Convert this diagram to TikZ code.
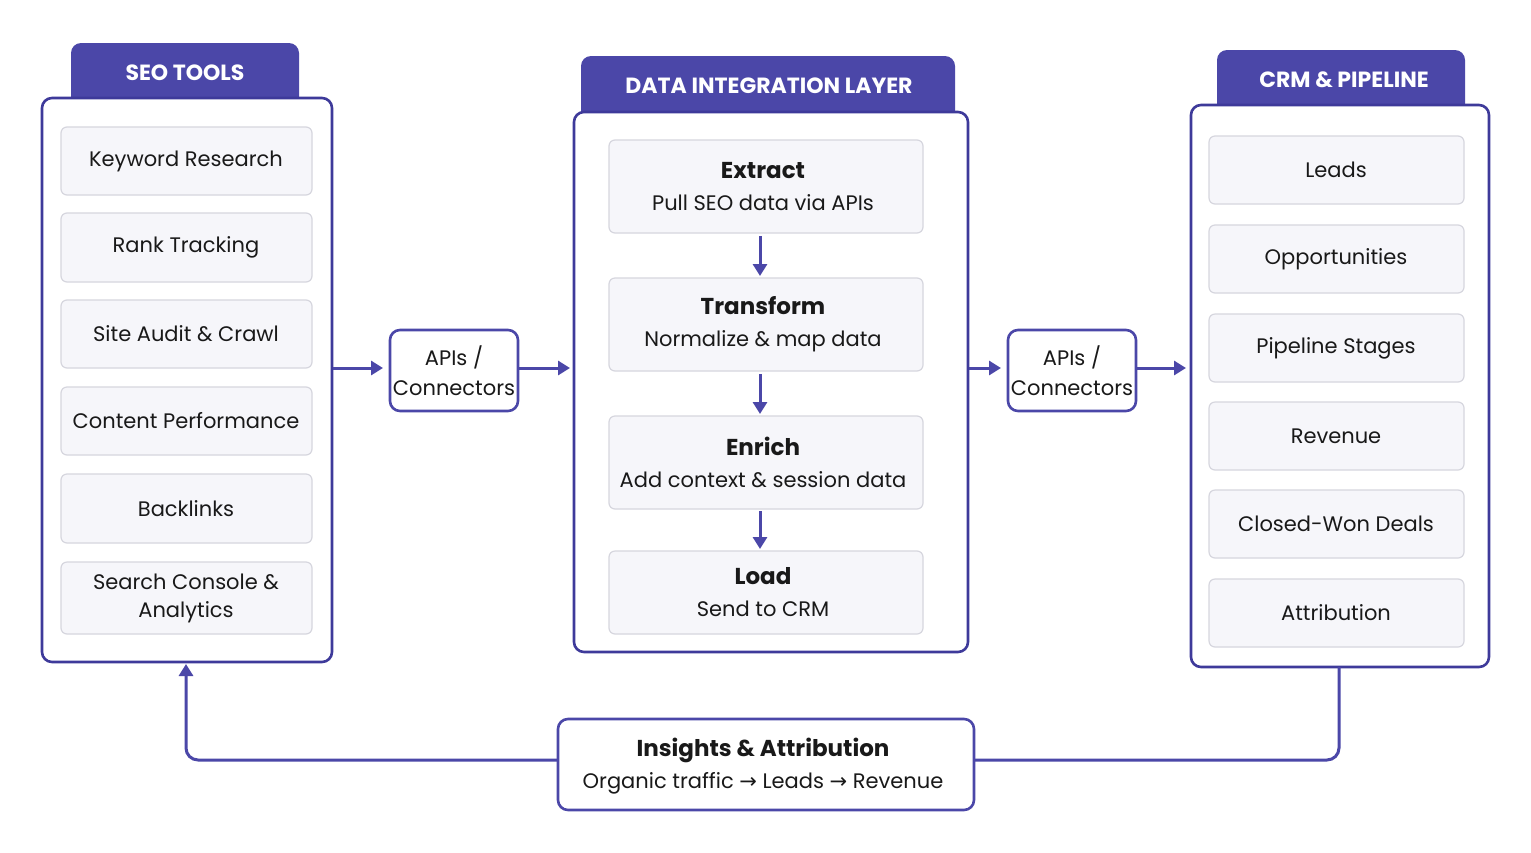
\documentclass[tikz,border=0pt]{standalone}
\usepackage{fontspec}
\setmainfont{Poppins}
\usetikzlibrary{arrows.meta}
\definecolor{pur}{HTML}{4B47A8}
\definecolor{purd}{HTML}{3E3A9A}
\definecolor{itf}{HTML}{F6F6FA}
\definecolor{itb}{HTML}{D6D6DE}
\tikzset{x=0.5pt,y=-0.5pt,
 panel/.style={draw=purd,line width=1.3pt,fill=white,rounded corners=5pt},
 tab/.style={fill=pur,rounded corners=5pt},
 tabtxt/.style={text=white,font=\fontsize{11}{13}\selectfont\bfseries},
 item/.style={draw=itb,line width=0.6pt,fill=itf,rounded corners=3pt},
 itxt/.style={font=\fontsize{10.5}{15}\selectfont,align=center,text=black!90},
 conn/.style={draw=pur,line width=1.3pt,fill=white,rounded corners=5pt},
 arr/.style={draw=pur,line width=1.5pt,-{Triangle[length=6pt,width=7pt]}}}
\begin{document}
\begin{tikzpicture}
\fill[white] (0,0) rectangle (1531,852);
\useasboundingbox (0,0) rectangle (1531,852);
% Left panel
\fill[tab] (71,43) rectangle (299,110);
\node[tabtxt] (t1) at (185,73) {SEO TOOLS};
\draw[panel] (42,98) rectangle (332,662);
\coordinate (lp) at (186,662);
\foreach \n/\a/\b/\t in {k1/127/195/Keyword Research,k2/213/282/Rank Tracking,k3/300/368/Site Audit \& Crawl,k4/387/455/Content Performance,k5/474/543/Backlinks,k6/562/634/{Search Console \&\\[-1pt]Analytics}}{
 \draw[item] (61,\a) rectangle (312,\b);
 \node[itxt] (\n) at (186,{(\a+\b)/2}) {\t};
}
% Middle panel
\fill[tab] (581,56) rectangle (955,124);
\node[tabtxt] (t2) at (769,86) {DATA INTEGRATION LAYER};
\draw[panel] (574,112) rectangle (968,652);
\foreach \n/\a/\b/\h/\s in {m1/140/233/Extract/Pull SEO data via APIs,m2/278/371/Transform/Normalize \& map data,m3/416/509/Enrich/Add context \& session data,m4/551/634/Load/Send to CRM}{
 \draw[item] (609,\a) rectangle (923,\b);
 \node[itxt] (\n) at (763,{(\a+\b)/2}) {{\fontsize{11.5}{15}\selectfont\bfseries\h}\\[1pt]\s};
}
\coordinate (a1) at (760,236); \coordinate (b1) at (760,276);
\coordinate (a2) at (760,374); \coordinate (b2) at (760,414);
\coordinate (a3) at (760,511); \coordinate (b3) at (760,549);
\draw[arr] (a1)--(b1); \draw[arr] (a2)--(b2); \draw[arr] (a3)--(b3);
% Right panel
\fill[tab] (1217,50) rectangle (1465,117);
\node[tabtxt] (t3) at (1344,80) {CRM \& PIPELINE};
\draw[panel] (1191,105) rectangle (1489,667);
\foreach \n/\a/\b/\t in {r1/136/204/Leads,r2/225/293/Opportunities,r3/314/382/Pipeline Stages,r4/402/470/Revenue,r5/490/558/Closed-Won Deals,r6/579/647/Attribution}{
 \draw[item] (1209,\a) rectangle (1464,\b);
 \node[itxt] (\n) at (1336,{(\a+\b)/2}) {\t};
}
% connectors
\draw[conn] (390,330) rectangle (518,411);
\node[itxt] (c1) at (454,371) {APIs /\\Connectors};
\draw[conn] (1008,330) rectangle (1136,411);
\node[itxt] (c2) at (1072,371) {APIs /\\Connectors};
\coordinate (p1) at (333,368); \coordinate (p2) at (383,368);
\coordinate (p3) at (519,368); \coordinate (p4) at (570,368);
\coordinate (p5) at (969,368); \coordinate (p6) at (1001,368);
\coordinate (p7) at (1137,368); \coordinate (p8) at (1186,368);
\draw[arr] (p1)--(p2); \draw[arr] (p3)--(p4); \draw[arr] (p5)--(p6); \draw[arr] (p7)--(p8);
% bottom
\coordinate (rb) at (1339,667);
\coordinate (lt) at (186,664);
\draw[pur,line width=1.5pt,rounded corners=6pt] (rb)--(1339,760)--(974,760);
\draw[arr,rounded corners=6pt] (558,760)--(186,760)--(lt);
\draw[conn] (558,719) rectangle (974,810);
\node[itxt] (ins) at (763,766) {{\fontsize{11.5}{15}\selectfont\bfseries Insights \& Attribution}\\[1pt]Organic traffic {\fontspec{DejaVu Sans}→} Leads {\fontspec{DejaVu Sans}→} Revenue};
\end{tikzpicture}
\end{document}
